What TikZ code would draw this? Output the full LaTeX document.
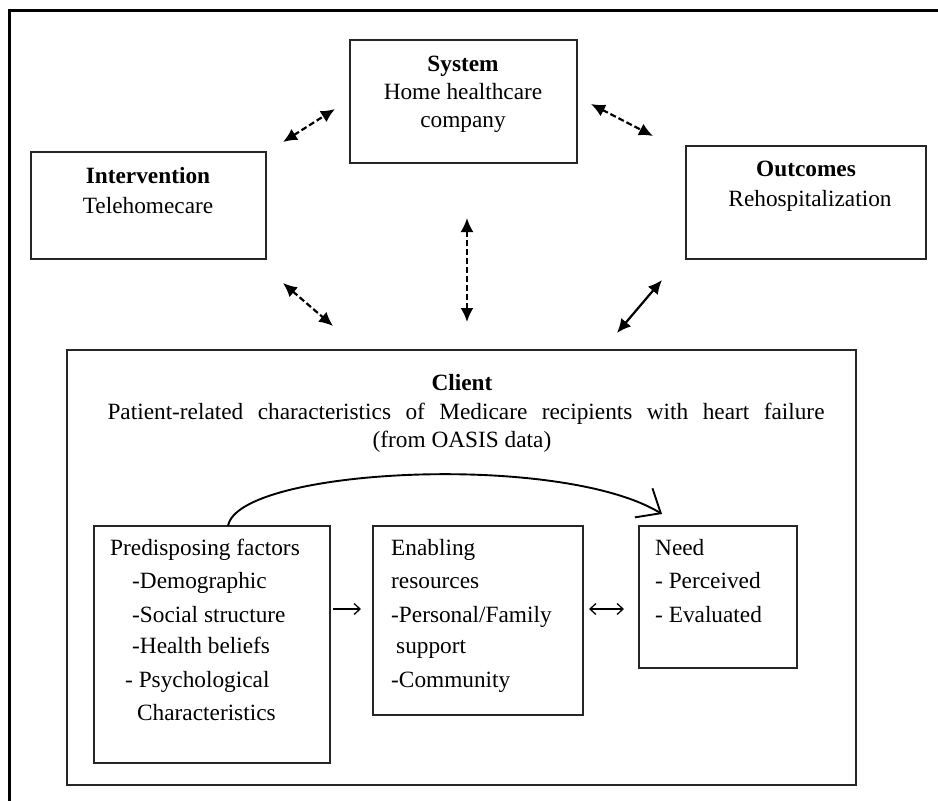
\documentclass[tikz,border=0pt]{standalone}
\usepackage{fontspec}
\setmainfont{Liberation Serif}
\usetikzlibrary{arrows.meta}
\begin{document}
\begin{tikzpicture}[x=1pt,y=-1pt,
  box/.style={draw=black!85, line width=1.8pt, inner sep=0pt, outer sep=0pt, anchor=north west},
  txt/.style={inner sep=0pt, font=\fontsize{23.3}{30}\selectfont},
  ctr/.style={txt, anchor=base},
  lft/.style={txt, anchor=base west},
  darr/.style={line width=2.2pt, dash pattern=on 6pt off 3pt, {Latex[length=14pt,width=13pt]}-{Latex[length=14pt,width=13pt]}},
  sarr/.style={line width=2.2pt, {Latex[length=14pt,width=13pt]}-{Latex[length=14pt,width=13pt]}},
  tarr/.style={line width=1.3pt, -{Straight Barb[length=6pt,width=11pt]}},
  tdarr/.style={line width=1.3pt, {Straight Barb[length=6pt,width=11pt]}-{Straight Barb[length=6pt,width=11pt]}},
  curvearr/.style={line width=1.9pt, -{Straight Barb[length=20pt,width=34pt,line width=1.9pt]}},
]
\useasboundingbox (0,0) rectangle (938,801);
\fill[white] (0,0) rectangle (938,801);
\draw[line width=3pt] (9,801) -- (9,10) -- (938,10);

% boxes
\node[box, minimum width=227pt, minimum height=123pt] (sys) at (350,40) {};
\node[box, minimum width=235pt, minimum height=107pt] (int) at (31,152) {};
\node[box, minimum width=240pt, minimum height=113pt] (out) at (686,146) {};
\node[box, minimum width=789pt, minimum height=435pt] (cli) at (67,350) {};
\node[box, minimum width=236pt, minimum height=237pt] (pre) at (94,526) {};
\node[box, minimum width=210pt, minimum height=189pt] (ena) at (373,526) {};
\node[box, minimum width=158pt, minimum height=142pt] (need) at (639,526) {};

% texts
\node[ctr] (sys1) at (463,71) {\textbf{System}};
\node[ctr] (sys2) at (463,99) {Home healthcare};
\node[ctr] (sys3) at (463,127) {company};
\node[ctr] (int1) at (148,183) {\textbf{Intervention}};
\node[ctr] (int2) at (148,213) {Telehomecare};
\node[ctr] (out1) at (806,176) {\textbf{Outcomes}};
\node[ctr] (out2) at (810,206) {Rehospitalization};
\node[ctr] (cli1) at (462,390) {\textbf{Client}};
\node[ctr] (cli2) at (466,419) {\makebox[717pt][s]{Patient-related characteristics of Medicare recipients with heart failure}};
\node[ctr] (cli3) at (462,447) {(from OASIS data)};

\node[lft] (pre1) at (110,555) {Predisposing factors};
\node[lft] (pre2) at (132,588) {-Demographic};
\node[lft] (pre3) at (132,622) {-Social structure};
\node[lft] (pre4) at (132,653) {-Health beliefs};
\node[lft] (pre5) at (125,687) {- Psychological};
\node[lft] (pre6) at (137,720) {Characteristics};

\node[lft] (ena1) at (391,555) {Enabling};
\node[lft] (ena2) at (391,588) {resources};
\node[lft] (ena3) at (391,622) {-Personal/Family};
\node[lft] (ena4) at (396,653) {support};
\node[lft] (ena5) at (391,687) {-Community};

\node[lft] (need1) at (655,555) {Need};
\node[lft] (need2) at (655,588) {- Perceived};
\node[lft] (need3) at (655,622) {- Evaluated};

% connector end points
\coordinate (a1) at (283,142); \coordinate (b1) at (335,109);
\coordinate (a2) at (591,104); \coordinate (b2) at (653,136);
\coordinate (a3) at (283,283); \coordinate (b3) at (333,326);
\coordinate (a4) at (467,218); \coordinate (b4) at (467,322);
\coordinate (a5) at (662,280); \coordinate (b5) at (617,333);
\coordinate (a6) at (333,609); \coordinate (b6) at (361,609);
\coordinate (a7) at (589,609); \coordinate (b7) at (624,609);
\coordinate (cs) at (228,526); \coordinate (ce) at (662,514);

\draw[darr] (a1) -- (b1);
\draw[darr] (a2) -- (b2);
\draw[darr] (a3) -- (b3);
\draw[darr] (a4) -- (b4);
\draw[sarr] (a5) -- (b5);
\draw[tarr] (a6) -- (b6);
\draw[tdarr] (a7) -- (b7);
\draw[curvearr] (cs) .. controls (238,468) and (560,452) .. (ce);
\end{tikzpicture}
\end{document}
